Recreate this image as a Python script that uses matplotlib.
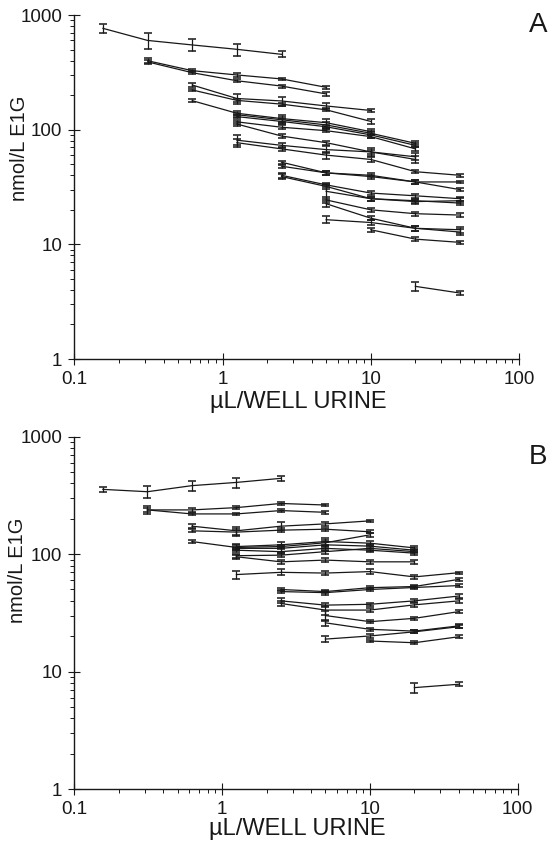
import matplotlib
matplotlib.use("Agg")
import matplotlib.pyplot as plt
from matplotlib.ticker import LogLocator, NullFormatter

plt.rcParams["font.family"] = ["Liberation Sans", "DejaVu Sans"]

# urine volume per well, two-fold dilution steps
VOLUMES = [0.156, 0.3125, 0.625, 1.25, 2.5, 5, 10, 20, 40]

X_TICKS = [0.1, 1, 10, 100]
X_TICK_LABELS = ["0.1", "1", "10", "100"]
Y_TICKS = [1, 10, 100, 1000]
Y_TICK_LABELS = ["1", "10", "100", "1000"]

# Panel A: first dilution index, measured E1G (nmol/L), SEM
A_START = [0, 1, 1, 2, 2, 2, 3, 3, 3, 3, 3, 3, 4, 4, 4, 4, 5, 5, 5, 5, 6, 7]
A_MEANS = [
    [765, 600, 548, 502, 454],
    [399, 327, 300, 277, 234],
    [390, 314, 267, 240, 205],
    [245, 187, 178, 161, 147],
    [222, 180, 167, 149, 118],
    [179, 139, 125, 115, 96],
    [135, 122, 110, 93, 76],
    [130, 118, 106, 90, 73],
    [117, 105, 98, 87, 68],
    [112, 88, 77, 64, 58],
    [81, 73, 67, 64, 55],
    [77, 68, 60, 55, 43, 40],
    [52, 42, 40, 35, 35],
    [48, 42, 39, 35, 30],
    [40, 33, 28, 26.5, 25],
    [39, 32, 25, 23.6, 24],
    [29, 25, 24, 22.9],
    [24.4, 20, 18.5, 18],
    [22.6, 16.9, 13.8, 13.4],
    [16.4, 15.5, 13.8, 12.8],
    [13.4, 11.1, 10.4],
    [4.3, 3.76],
]
A_ERRS = [
    [70, 90, 65, 60, 28],
    [25, 10, 12, 8, 7],
    [12, 9, 8, 7, 8],
    [8, 18, 16, 10, 5],
    [6, 6, 5, 4, 5],
    [6, 6, 8, 10, 5],
    [5, 8, 6, 4, 3],
    [4, 5, 4, 5, 3],
    [5, 4, 3, 3, 3],
    [4, 3, 3, 3, 4],
    [8, 4, 5, 5, 4],
    [6, 3, 4, 3, 1.5, 1.2],
    [1.5, 1.5, 1.5, 1.2, 1],
    [1.5, 1.5, 1.5, 1.2, 1],
    [2, 1.5, 1, 1, 1],
    [2, 1.5, 1, 1, 1.2],
    [4, 1, 1, 1],
    [1.5, 0.8, 0.8, 0.6],
    [1.5, 0.7, 0.6, 0.8],
    [1.2, 0.7, 0.6, 0.8],
    [0.5, 0.4, 0.4],
    [0.4, 0.15],
]

# Panel B
B_START = [0, 1, 1, 2, 2, 2, 3, 3, 3, 3, 3, 3, 4, 4, 4, 4, 5, 5, 5, 6, 7]
B_MEANS = [
    [356, 340, 383, 408, 442],
    [238, 238, 249, 270, 262],
    [238, 220, 220, 235, 227],
    [173, 158, 173, 181, 192],
    [158, 154, 160, 163, 155],
    [128, 114, 116, 125, 146],
    [116, 120, 128, 124, 113],
    [112, 112, 120, 117, 108],
    [108, 105, 112, 108, 102],
    [97, 98, 105, 112, 105],
    [95, 86, 89, 86, 86],
    [67, 70, 69, 71, 64, 69.5],
    [50, 48, 51.8, 53, 61],
    [48, 47, 50, 52, 54],
    [40, 36.8, 37.4, 40, 44],
    [38, 33.4, 33.4, 37, 40],
    [30, 26.6, 28.4, 32.4],
    [26, 22.9, 22.1, 24.5],
    [18.9, 20.1, 21.8, 24.1],
    [18.2, 17.6, 19.8],
    [7.3, 7.8],
]
B_ERRS = [
    [18, 40, 35, 40, 22],
    [20, 8, 8, 6, 6],
    [10, 6, 6, 5, 6],
    [6, 12, 14, 8, 5],
    [5, 10, 6, 5, 5],
    [3, 5, 4, 6, 5],
    [5, 6, 10, 5, 4],
    [4, 8, 8, 6, 4],
    [4, 5, 5, 4, 3],
    [4, 4, 4, 5, 3],
    [4, 3, 3, 3, 3],
    [5, 4, 3, 3, 2, 1.5],
    [1.5, 1.5, 1.5, 1.5, 1.5],
    [1.5, 2, 1.5, 1.5, 1.2],
    [2, 1.5, 1.2, 1.2, 2],
    [2, 3, 1.2, 1.2, 1.5],
    [3, 0.8, 0.8, 0.8],
    [1.5, 0.8, 0.6, 0.8],
    [1.2, 0.6, 0.6, 0.6],
    [0.5, 0.5, 0.6],
    [0.7, 0.3],
]

INK = "#181818"
W, H = 548, 842


def px_axes(left, top, right, bottom):
    """Axes rect from pixel edges of the 548x842 canvas."""
    return [left / W, 1 - bottom / H, (right - left) / W, (bottom - top) / H]


def draw_panel(ax, starts, means, errs):
    for start, m, e in zip(starts, means, errs):
        xs = VOLUMES[start:start + len(m)]
        ax.errorbar(xs, m, yerr=e, color=INK, lw=0.9, elinewidth=0.9,
                    capsize=2.8, capthick=1.1)

    ax.set_xscale("log")
    ax.set_yscale("log")
    ax.set_xlim(0.1, 100)
    ax.set_ylim(1, 1000)
    ax.set_xticks(X_TICKS, X_TICK_LABELS)
    ax.set_yticks(Y_TICKS, Y_TICK_LABELS)
    for axis in (ax.xaxis, ax.yaxis):
        axis.set_minor_locator(LogLocator(base=10, subs=range(2, 10)))
        axis.set_minor_formatter(NullFormatter())

    ax.spines["top"].set_visible(False)
    ax.spines["right"].set_visible(False)
    for side in ("left", "bottom"):
        ax.spines[side].set_linewidth(1.0)
        ax.spines[side].set_color(INK)
    ax.tick_params(which="major", direction="inout", length=9, width=0.8,
                   colors=INK, labelsize=13.5, pad=4)
    ax.tick_params(which="minor", direction="out", length=3, width=0.7,
                   colors=INK)
    ax.set_facecolor("white")


fig = plt.figure(figsize=(W / 100, H / 100), dpi=100)
fig.patch.set_facecolor("white")

ax_a = fig.add_axes(px_axes(74.3, 15, 519, 359))
ax_b = fig.add_axes(px_axes(74.3, 436.7, 517.7, 789))

draw_panel(ax_a, A_START, A_MEANS, A_ERRS)
draw_panel(ax_b, B_START, B_MEANS, B_ERRS)

# axis titles and panel letters
fig.text(19.5 / W, 1 - 148.5 / H, "nmol/L E1G", rotation=90,
         ha="center", va="center", fontsize=14.5, color=INK)
fig.text(18 / W, 1 - 570 / H, "nmol/L E1G", rotation=90,
         ha="center", va="center", fontsize=14.5, color=INK)
fig.text(298 / W, 1 - 402 / H, "µL/WELL URINE", ha="center", va="center",
         fontsize=17, color=INK)
fig.text(297.5 / W, 1 - 829 / H, "µL/WELL URINE", ha="center", va="center",
         fontsize=17, color=INK)
fig.text(538 / W, 1 - 25 / H, "A", ha="center", va="center",
         fontsize=20, color=INK)
fig.text(538 / W, 1 - 457 / H, "B", ha="center", va="center",
         fontsize=20, color=INK)

fig.savefig("out.png", dpi=100, facecolor="white")
